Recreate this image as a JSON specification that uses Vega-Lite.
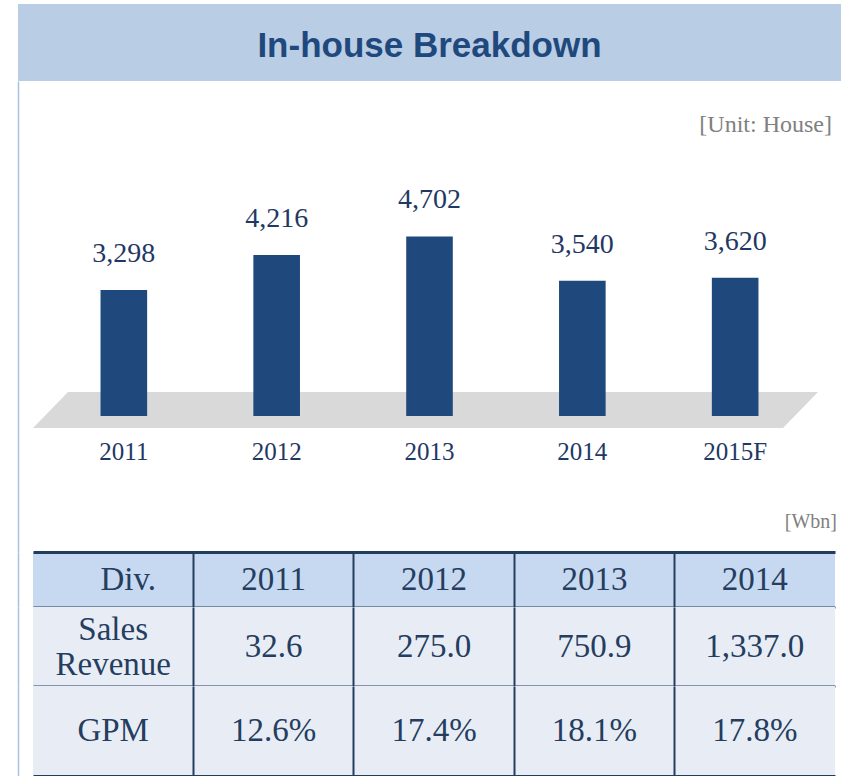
{
  "$schema": "https://vega.github.io/schema/vega-lite/v6.json",
  "background": "white",
  "padding": {"left": 18, "top": 4, "right": 0, "bottom": 0},
  "spacing": 0,
  "bounds": "flush",
  "config": {"view": {"stroke": null}},
  "datasets": {
    "houses": [
      {"year": "2011", "houses": 3298},
      {"year": "2012", "houses": 4216},
      {"year": "2013", "houses": 4702},
      {"year": "2014", "houses": 3540},
      {"year": "2015F", "houses": 3620}
    ],
    "table": [
      {"row": "Div.", "col": "Div.", "text": "Div."},
      {"row": "Div.", "col": "2011", "text": "2011"},
      {"row": "Div.", "col": "2012", "text": "2012"},
      {"row": "Div.", "col": "2013", "text": "2013"},
      {"row": "Div.", "col": "2014", "text": "2014"},
      {"row": "Sales Revenue", "col": "Div.", "text": "Sales|Revenue"},
      {"row": "Sales Revenue", "col": "2011", "text": "32.6"},
      {"row": "Sales Revenue", "col": "2012", "text": "275.0"},
      {"row": "Sales Revenue", "col": "2013", "text": "750.9"},
      {"row": "Sales Revenue", "col": "2014", "text": "1,337.0"},
      {"row": "GPM", "col": "Div.", "text": "GPM"},
      {"row": "GPM", "col": "2011", "text": "12.6%"},
      {"row": "GPM", "col": "2012", "text": "17.4%"},
      {"row": "GPM", "col": "2013", "text": "18.1%"},
      {"row": "GPM", "col": "2014", "text": "17.8%"}
    ]
  },
  "vconcat": [
    {
      "width": 823,
      "height": 77,
      "view": {"fill": "#b9cde5", "stroke": null},
      "data": {"values": [{"label": "In-house Breakdown"}]},
      "mark": {"type": "text", "font": "Liberation Sans", "fontWeight": "bold", "fontSize": 35, "color": "#1f497d", "dy": 3},
      "encoding": {"text": {"field": "label", "type": "nominal"}}
    },
    {
      "width": 823,
      "height": 471,
      "data": {"name": "houses"},
      "title": {"text": "[Unit: House]", "anchor": "end", "frame": "group", "orient": "top", "offset": -68, "baseline": "middle", "dx": -9, "font": "Liberation Serif", "fontSize": 24, "fontWeight": "normal", "color": "#808080"},
      "layer": [
        {
          "data": {"values": [{"part": "floor"}]},
          "mark": {"type": "point", "filled": true, "opacity": 1, "fill": "#d9d9d9", "stroke": null},
          "encoding": {
            "y": {"datum": 0, "type": "quantitative"},
            "shape": {"value": "M-0.90375,-0.06L0.97125,-0.06L0.88375,0.03L-0.99125,0.03Z"},
            "size": {"value": 640000}
          }
        },
        {
          "mark": {"type": "bar", "color": "#1f497d"},
          "encoding": {
            "x": {"field": "year", "type": "nominal", "sort": null, "axis": null, "scale": {"type": "band", "paddingInner": 0.695, "paddingOuter": 0.54}},
            "y": {"field": "houses", "type": "quantitative", "scale": {"domain": [-3560, 8770], "nice": false, "zero": false},
              "axis": {"orient": "left", "domain": true, "domainColor": "#a9c1e0", "domainWidth": 1.5, "ticks": false, "labels": false, "grid": false, "title": null}}
          }
        },
        {
          "mark": {"type": "text", "font": "Liberation Serif", "fontSize": 28, "color": "#1f3864", "baseline": "middle", "dy": -36},
          "encoding": {
            "x": {"field": "year", "type": "nominal", "sort": null, "axis": null, "scale": {"type": "band", "paddingInner": 0.695, "paddingOuter": 0.54}},
            "y": {"field": "houses", "type": "quantitative"},
            "text": {"field": "houses", "type": "quantitative", "format": ",d"}
          }
        },
        {
          "mark": {"type": "text", "font": "Liberation Serif", "fontSize": 25, "color": "#1f3864", "baseline": "middle", "dy": 36},
          "encoding": {
            "x": {"field": "year", "type": "nominal", "sort": null, "axis": null, "scale": {"type": "band", "paddingInner": 0.695, "paddingOuter": 0.54}},
            "y": {"datum": 0, "type": "quantitative"},
            "text": {"field": "year", "type": "nominal"}
          }
        }
      ]
    },
    {
      "spacing": 0,
      "bounds": "flush",
      "vconcat": [
        {
          "width": 823,
          "height": 55,
          "data": {"name": "table"},
          "transform": [{"filter": "datum.row === 'Div.'"}],
          "title": {"text": "[Wbn]", "anchor": "end", "frame": "group", "orient": "top", "offset": 10, "baseline": "middle", "dx": -4, "font": "Liberation Serif", "fontSize": 20, "fontWeight": "normal", "color": "#808080"},
          "encoding": {
            "y": {"field": "row", "type": "nominal", "scale": {"type": "band", "paddingInner": 0, "paddingOuter": 0},
              "axis": {"orient": "left", "domain": true, "domainColor": "#a9c1e0", "domainWidth": 1.5, "ticks": false, "labels": false, "grid": false, "title": null}}
          },
          "layer": [
            {
              "mark": {"type": "rect", "color": "#c6d9f0"},
              "encoding": {
                "x": {"field": "col", "type": "nominal", "sort": ["Div.", "2011", "2012", "2013", "2014"], "scale": {"type": "band", "range": [15, 817], "paddingInner": 0, "paddingOuter": 0},
                  "axis": {"orient": "top", "domain": true, "domainColor": "#243c5e", "domainWidth": 3, "ticks": false, "labels": false, "grid": false, "title": null, "zindex": 1}}
              }
            },
            {
              "transform": [{"filter": "datum.col !== 'Div.'"}],
              "mark": {"type": "text", "font": "Liberation Serif", "fontSize": 33, "color": "#253d5f", "baseline": "middle"},
              "encoding": {
                "x": {"field": "col", "type": "nominal", "sort": ["Div.", "2011", "2012", "2013", "2014"], "scale": {"type": "band", "range": [15, 817], "paddingInner": 0, "paddingOuter": 0},
                  "axis": {"orient": "bottom", "domain": true, "domainColor": "#243c5e", "domainWidth": 2, "ticks": false, "labels": false, "title": null, "grid": true, "gridColor": "#243c5e", "gridWidth": 2, "gridOpacity": 1, "bandPosition": 0, "values": ["2011", "2012", "2013", "2014"], "zindex": 1}},
                "text": {"field": "text", "type": "nominal"}
              }
            },
            {
              "transform": [{"filter": "datum.col === 'Div.'"}],
              "mark": {"type": "text", "font": "Liberation Serif", "fontSize": 33, "color": "#253d5f", "baseline": "middle", "dx": 15},
              "encoding": {
                "x": {"field": "col", "type": "nominal", "sort": ["Div.", "2011", "2012", "2013", "2014"], "scale": {"type": "band", "range": [15, 817], "paddingInner": 0, "paddingOuter": 0}, "axis": null},
                "text": {"field": "text", "type": "nominal"}
              }
            }
          ],
          "resolve": {"axis": {"x": "independent"}}
        },
        {
          "width": 823,
          "height": 79,
          "data": {"name": "table"},
          "transform": [{"filter": "datum.row === 'Sales Revenue'"}],
          "encoding": {
            "y": {"field": "row", "type": "nominal", "scale": {"type": "band", "paddingInner": 0, "paddingOuter": 0},
              "axis": {"orient": "left", "domain": true, "domainColor": "#a9c1e0", "domainWidth": 1.5, "ticks": false, "labels": false, "grid": false, "title": null}}
          },
          "layer": [
            {
              "mark": {"type": "rect", "color": "#e8edf5"},
              "encoding": {
                "x": {"field": "col", "type": "nominal", "sort": ["Div.", "2011", "2012", "2013", "2014"], "scale": {"type": "band", "range": [15, 817], "paddingInner": 0, "paddingOuter": 0}, "axis": null}
              }
            },
            {
              "transform": [{"filter": "datum.col !== 'Div.'"}],
              "mark": {"type": "text", "font": "Liberation Serif", "fontSize": 33, "color": "#253d5f", "baseline": "middle"},
              "encoding": {
                "x": {"field": "col", "type": "nominal", "sort": ["Div.", "2011", "2012", "2013", "2014"], "scale": {"type": "band", "range": [15, 817], "paddingInner": 0, "paddingOuter": 0},
                  "axis": {"orient": "bottom", "domain": true, "domainColor": "#243c5e", "domainWidth": 2, "ticks": false, "labels": false, "title": null, "grid": true, "gridColor": "#243c5e", "gridWidth": 2, "gridOpacity": 1, "bandPosition": 0, "values": ["2011", "2012", "2013", "2014"], "zindex": 1}},
                "text": {"field": "text", "type": "nominal"}
              }
            },
            {
              "transform": [{"filter": "datum.col === 'Div.'"}],
              "mark": {"type": "text", "font": "Liberation Serif", "fontSize": 33, "color": "#253d5f", "baseline": "middle", "lineBreak": "|", "lineHeight": 35, "dy": -17},
              "encoding": {
                "x": {"field": "col", "type": "nominal", "sort": ["Div.", "2011", "2012", "2013", "2014"], "scale": {"type": "band", "range": [15, 817], "paddingInner": 0, "paddingOuter": 0}, "axis": null},
                "text": {"field": "text", "type": "nominal"}
              }
            }
          ],
          "resolve": {"axis": {"x": "independent"}}
        },
        {
          "width": 823,
          "height": 90,
          "data": {"name": "table"},
          "transform": [{"filter": "datum.row === 'GPM'"}],
          "encoding": {
            "y": {"field": "row", "type": "nominal", "scale": {"type": "band", "paddingInner": 0, "paddingOuter": 0},
              "axis": {"orient": "left", "domain": true, "domainColor": "#a9c1e0", "domainWidth": 1.5, "ticks": false, "labels": false, "grid": false, "title": null}}
          },
          "layer": [
            {
              "mark": {"type": "rect", "color": "#e8edf5"},
              "encoding": {
                "x": {"field": "col", "type": "nominal", "sort": ["Div.", "2011", "2012", "2013", "2014"], "scale": {"type": "band", "range": [15, 817], "paddingInner": 0, "paddingOuter": 0}, "axis": null}
              }
            },
            {
              "mark": {"type": "text", "font": "Liberation Serif", "fontSize": 33, "color": "#253d5f", "baseline": "middle"},
              "encoding": {
                "x": {"field": "col", "type": "nominal", "sort": ["Div.", "2011", "2012", "2013", "2014"], "scale": {"type": "band", "range": [15, 817], "paddingInner": 0, "paddingOuter": 0},
                  "axis": {"orient": "bottom", "domain": true, "domainColor": "#243c5e", "domainWidth": 3, "ticks": false, "labels": false, "title": null, "grid": true, "gridColor": "#243c5e", "gridWidth": 2, "gridOpacity": 1, "bandPosition": 0, "values": ["2011", "2012", "2013", "2014"], "zindex": 1}},
                "text": {"field": "text", "type": "nominal"}
              }
            }
          ],
          "resolve": {"axis": {"x": "independent"}}
        }
      ]
    }
  ]
}
